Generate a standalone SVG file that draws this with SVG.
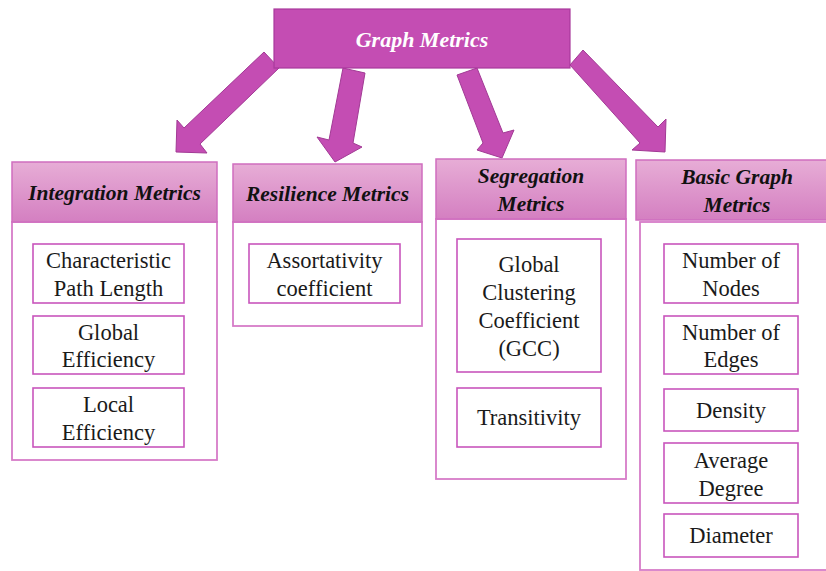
<svg xmlns="http://www.w3.org/2000/svg" width="826" height="571" viewBox="0 0 826 571">
  <defs>
    <linearGradient id="hdrGrad" x1="0" y1="0" x2="0" y2="1">
      <stop offset="0" stop-color="#E7ADD6"/>
      <stop offset="1" stop-color="#D47FC1"/>
    </linearGradient>
    <style>
      .root { fill: #C44DB3; stroke: #A93A9C; stroke-width: 1.2; }
      .arrow { fill: #C44DB3; stroke: #A23A95; stroke-width: 1; stroke-linejoin: miter; }
      .hdr { fill: url(#hdrGrad); stroke: #CF6EBF; stroke-width: 1.5; }
      .panel { fill: #FFFFFF; stroke: #D67CC8; stroke-width: 1.8; }
      .item { fill: #FFFFFF; stroke: #C955BC; stroke-width: 1.6; }
      .title { font-family: 'Liberation Serif', 'Times New Roman', serif; font-style: italic; font-weight: bold; font-size: 22px; fill: #FFFFFF; text-anchor: middle; }
      .htext { font-family: 'Liberation Serif', 'Times New Roman', serif; font-style: italic; font-weight: bold; font-size: 21.5px; fill: #111111; text-anchor: middle; }
      .itext { font-family: 'Liberation Serif', 'Times New Roman', serif; font-size: 22.5px; fill: #1A1A1A; text-anchor: middle; }
    </style>
  </defs>

  <rect width="826" height="571" fill="#FFFFFF"/>

  <!-- block arrows from the root to each category -->
  <g id="connectors">
    <polygon class="arrow" points="264,52 279,68 200,144 207,153 176,152 177,120 184,128"/>
    <polygon class="arrow" points="343,68 365,73 353,143 362,147 335,162 317,137 329,140"/>
    <polygon class="arrow" points="457,75 477,68 503,133 514,130 502,158 477,150 483,143"/>
    <polygon class="arrow" points="570,65 583,50 658,127 666,119 665,152 632,150 640,143"/>
  </g>

  <!-- root -->
  <g id="graph-metrics">
    <rect class="root" x="274" y="9" width="296" height="59"/>
    <text class="title" x="422" y="47">Graph Metrics</text>
  </g>

  <!-- Integration -->
  <g id="integration-metrics">
    <rect class="panel" x="12" y="222" width="205" height="238"/>
    <rect class="hdr" x="12" y="162" width="205" height="60"/>
    <text class="htext" x="114.5" y="200">Integration Metrics</text>
  </g>
  <g id="characteristic-path-length">
    <rect class="item" x="33" y="244" width="151" height="59"/>
    <text class="itext" x="108.5" y="268">Characteristic</text>
    <text class="itext" x="108.5" y="296">Path Length</text>
  </g>
  <g id="global-efficiency">
    <rect class="item" x="33" y="316" width="151" height="58"/>
    <text class="itext" x="108.5" y="340">Global</text>
    <text class="itext" x="108.5" y="367">Efficiency</text>
  </g>
  <g id="local-efficiency">
    <rect class="item" x="33" y="388" width="151" height="59"/>
    <text class="itext" x="108.5" y="412">Local</text>
    <text class="itext" x="108.5" y="440">Efficiency</text>
  </g>

  <!-- Resilience -->
  <g id="resilience-metrics">
    <rect class="panel" x="233" y="222" width="189" height="104"/>
    <rect class="hdr" x="233" y="164" width="189" height="58"/>
    <text class="htext" x="327.5" y="201">Resilience Metrics</text>
  </g>
  <g id="assortativity-coefficient">
    <rect class="item" x="249" y="244" width="151" height="59"/>
    <text class="itext" x="324.5" y="268">Assortativity</text>
    <text class="itext" x="324.5" y="296">coefficient</text>
  </g>

  <!-- Segregation -->
  <g id="segregation-metrics">
    <rect class="panel" x="436" y="219" width="190" height="260"/>
    <rect class="hdr" x="436" y="159" width="190" height="60"/>
    <text class="htext" x="531" y="183">Segregation</text>
    <text class="htext" x="531" y="211">Metrics</text>
  </g>
  <g id="global-clustering-coefficient">
    <rect class="item" x="457" y="239" width="144" height="133"/>
    <text class="itext" x="529" y="272">Global</text>
    <text class="itext" x="529" y="300">Clustering</text>
    <text class="itext" x="529" y="328">Coefficient</text>
    <text class="itext" x="529" y="356">(GCC)</text>
  </g>
  <g id="transitivity">
    <rect class="item" x="457" y="388" width="144" height="59"/>
    <text class="itext" x="529" y="425">Transitivity</text>
  </g>

  <!-- Basic graph metrics -->
  <g id="basic-graph-metrics">
    <rect class="panel" x="640" y="222" width="196" height="348"/>
    <rect class="hdr" x="636" y="160" width="202" height="60"/>
    <text class="htext" x="737" y="184">Basic Graph</text>
    <text class="htext" x="737" y="212">Metrics</text>
  </g>
  <g id="number-of-nodes">
    <rect class="item" x="664" y="244" width="134" height="59"/>
    <text class="itext" x="731" y="268">Number of</text>
    <text class="itext" x="731" y="296">Nodes</text>
  </g>
  <g id="number-of-edges">
    <rect class="item" x="664" y="316" width="134" height="58"/>
    <text class="itext" x="731" y="340">Number of</text>
    <text class="itext" x="731" y="367">Edges</text>
  </g>
  <g id="density">
    <rect class="item" x="664" y="389" width="134" height="42"/>
    <text class="itext" x="731" y="418">Density</text>
  </g>
  <g id="average-degree">
    <rect class="item" x="664" y="443" width="134" height="60"/>
    <text class="itext" x="731" y="468">Average</text>
    <text class="itext" x="731" y="496">Degree</text>
  </g>
  <g id="diameter">
    <rect class="item" x="664" y="514" width="134" height="43"/>
    <text class="itext" x="731" y="543">Diameter</text>
  </g>
</svg>
